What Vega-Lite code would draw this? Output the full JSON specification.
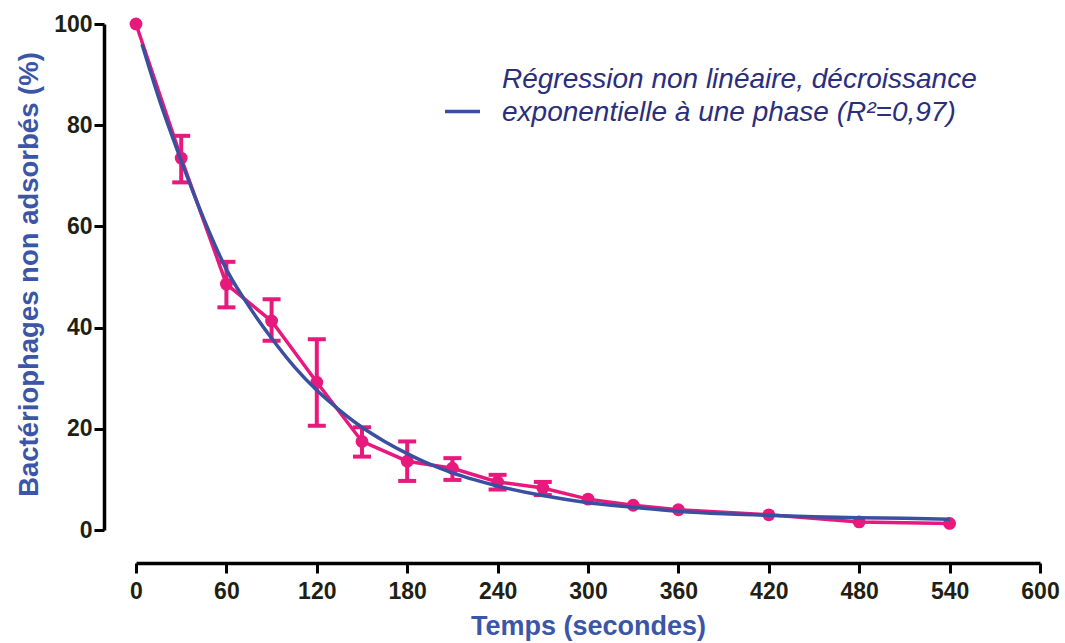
{
  "$schema": "https://vega.github.io/schema/vega-lite/v6.json",
  "width": 904,
  "height": 506,
  "autosize": {"type": "none"},
  "padding": {"left": 136, "top": 24, "right": 25, "bottom": 113},
  "background": "white",
  "config": {"view": {"stroke": null}, "font": "Liberation Sans"},
  "datasets": {
    "obs": [
      {"t": 0, "mean": 100},
      {"t": 30, "mean": 73.5, "lo": 68.7, "hi": 77.9},
      {"t": 60, "mean": 48.6, "lo": 44.0, "hi": 53.0},
      {"t": 90, "mean": 41.3, "lo": 37.4, "hi": 45.6},
      {"t": 120, "mean": 29.2, "lo": 20.6, "hi": 37.7},
      {"t": 150, "mean": 17.5, "lo": 14.5, "hi": 20.3},
      {"t": 180, "mean": 13.6, "lo": 9.7, "hi": 17.5},
      {"t": 210, "mean": 12.2, "lo": 9.9, "hi": 14.2},
      {"t": 240, "mean": 9.5, "lo": 8.0, "hi": 10.9},
      {"t": 270, "mean": 8.3, "lo": 6.9, "hi": 9.5},
      {"t": 300, "mean": 6.1},
      {"t": 330, "mean": 4.9},
      {"t": 360, "mean": 4.0},
      {"t": 420, "mean": 3.0},
      {"t": 480, "mean": 1.6},
      {"t": 540, "mean": 1.3}
    ],
    "fit": [
      {"t": 4, "y": 96, "s": "Régression non linéaire, décroissance|exponentielle à une phase (R²=0,97)"},
      {"t": 15, "y": 85.5, "s": "Régression non linéaire, décroissance|exponentielle à une phase (R²=0,97)"},
      {"t": 30, "y": 73, "s": "Régression non linéaire, décroissance|exponentielle à une phase (R²=0,97)"},
      {"t": 45, "y": 61.5, "s": "Régression non linéaire, décroissance|exponentielle à une phase (R²=0,97)"},
      {"t": 60, "y": 51.5, "s": "Régression non linéaire, décroissance|exponentielle à une phase (R²=0,97)"},
      {"t": 75, "y": 44.2, "s": "Régression non linéaire, décroissance|exponentielle à une phase (R²=0,97)"},
      {"t": 90, "y": 37.9, "s": "Régression non linéaire, décroissance|exponentielle à une phase (R²=0,97)"},
      {"t": 105, "y": 32.3, "s": "Régression non linéaire, décroissance|exponentielle à une phase (R²=0,97)"},
      {"t": 120, "y": 27.6, "s": "Régression non linéaire, décroissance|exponentielle à une phase (R²=0,97)"},
      {"t": 135, "y": 23.7, "s": "Régression non linéaire, décroissance|exponentielle à une phase (R²=0,97)"},
      {"t": 150, "y": 20.3, "s": "Régression non linéaire, décroissance|exponentielle à une phase (R²=0,97)"},
      {"t": 165, "y": 17.5, "s": "Régression non linéaire, décroissance|exponentielle à une phase (R²=0,97)"},
      {"t": 180, "y": 15.1, "s": "Régression non linéaire, décroissance|exponentielle à une phase (R²=0,97)"},
      {"t": 195, "y": 13.0, "s": "Régression non linéaire, décroissance|exponentielle à une phase (R²=0,97)"},
      {"t": 210, "y": 11.3, "s": "Régression non linéaire, décroissance|exponentielle à une phase (R²=0,97)"},
      {"t": 225, "y": 9.9, "s": "Régression non linéaire, décroissance|exponentielle à une phase (R²=0,97)"},
      {"t": 240, "y": 8.7, "s": "Régression non linéaire, décroissance|exponentielle à une phase (R²=0,97)"},
      {"t": 270, "y": 6.8, "s": "Régression non linéaire, décroissance|exponentielle à une phase (R²=0,97)"},
      {"t": 300, "y": 5.4, "s": "Régression non linéaire, décroissance|exponentielle à une phase (R²=0,97)"},
      {"t": 330, "y": 4.5, "s": "Régression non linéaire, décroissance|exponentielle à une phase (R²=0,97)"},
      {"t": 360, "y": 3.7, "s": "Régression non linéaire, décroissance|exponentielle à une phase (R²=0,97)"},
      {"t": 390, "y": 3.2, "s": "Régression non linéaire, décroissance|exponentielle à une phase (R²=0,97)"},
      {"t": 420, "y": 2.9, "s": "Régression non linéaire, décroissance|exponentielle à une phase (R²=0,97)"},
      {"t": 450, "y": 2.6, "s": "Régression non linéaire, décroissance|exponentielle à une phase (R²=0,97)"},
      {"t": 480, "y": 2.4, "s": "Régression non linéaire, décroissance|exponentielle à une phase (R²=0,97)"},
      {"t": 510, "y": 2.3, "s": "Régression non linéaire, décroissance|exponentielle à une phase (R²=0,97)"},
      {"t": 540, "y": 2.1, "s": "Régression non linéaire, décroissance|exponentielle à une phase (R²=0,97)"}
    ]
  },
  "layer": [
    {
      "data": {"name": "obs"},
      "mark": {"type": "line", "color": "#e8197d", "strokeWidth": 3.5},
      "encoding": {
        "x": {
          "field": "t", "type": "quantitative",
          "scale": {"domain": [0, 600], "nice": false, "zero": false},
          "axis": {
            "title": "Temps (secondes)",
            "values": [0, 60, 120, 180, 240, 300, 360, 420, 480, 540, 600],
            "grid": false, "offset": 33,
            "domainColor": "black", "domainWidth": 3.5,
            "tickColor": "black", "tickWidth": 3, "tickSize": 10,
            "labelFont": "Liberation Sans", "labelFontSize": 23, "labelFontWeight": "bold",
            "labelColor": "#1f1f14", "labelPadding": 7, "labelFlush": false, "labelOverlap": false,
            "titleFont": "Liberation Sans", "titleFontSize": 27, "titleFontWeight": "bold",
            "titleColor": "#3b56a8", "titlePadding": 10
          }
        },
        "y": {
          "field": "mean", "type": "quantitative",
          "title": "Bactériophages non adsorbés (%)",
          "scale": {"domain": [0, 100], "nice": false},
          "axis": {
            "values": [0, 20, 40, 60, 80, 100],
            "grid": false, "offset": 32,
            "domainColor": "black", "domainWidth": 3.5,
            "tickColor": "black", "tickWidth": 3, "tickSize": 10,
            "labelFont": "Liberation Sans", "labelFontSize": 23, "labelFontWeight": "bold",
            "labelColor": "#1f1f14", "labelPadding": 2, "labelFlush": false, "labelOverlap": false,
            "titleFont": "Liberation Sans", "titleFontSize": 27.5, "titleFontWeight": "bold",
            "titleColor": "#3b56a8", "titlePadding": 10, "titleY": 250
          }
        }
      }
    },
    {
      "data": {"name": "obs"},
      "transform": [{"filter": "isValid(datum.lo)"}],
      "mark": {
        "type": "errorbar",
        "ticks": {"size": 18, "thickness": 4, "color": "#e8197d", "opacity": 1},
        "rule": {"strokeWidth": 4, "color": "#e8197d", "opacity": 1}
      },
      "encoding": {
        "x": {"field": "t", "type": "quantitative"},
        "y": {"field": "lo", "type": "quantitative", "title": "Bactériophages non adsorbés (%)"},
        "y2": {"field": "hi"}
      }
    },
    {
      "data": {"name": "obs"},
      "mark": {"type": "circle", "color": "#e8197d", "opacity": 1, "size": 165},
      "encoding": {
        "x": {"field": "t", "type": "quantitative"},
        "y": {"field": "mean", "type": "quantitative", "title": "Bactériophages non adsorbés (%)"}
      }
    },
    {
      "data": {"name": "fit"},
      "mark": {"type": "line", "strokeWidth": 3.5, "interpolate": "monotone"},
      "encoding": {
        "x": {"field": "t", "type": "quantitative"},
        "y": {"field": "y", "type": "quantitative", "title": "Bactériophages non adsorbés (%)"},
        "color": {
          "field": "s", "type": "nominal",
          "scale": {"range": ["#3b4fa0"]},
          "legend": {
            "orient": "none", "legendX": 307, "legendY": 68,
            "title": null, "padding": 0,
            "symbolType": "stroke", "symbolStrokeWidth": 3.5, "symbolSize": 1225,
            "labelFont": "Liberation Sans", "labelFontSize": 28, "labelFontStyle": "italic",
            "labelColor": "#2b2e7c", "labelLimit": 1000, "labelOffset": 20,
            "labelExpr": "split(datum.label, '|')",
            "encode": {"labels": {"update": {"lineHeight": {"value": 33}, "dy": {"value": -32}}}}
          }
        }
      }
    }
  ]
}
